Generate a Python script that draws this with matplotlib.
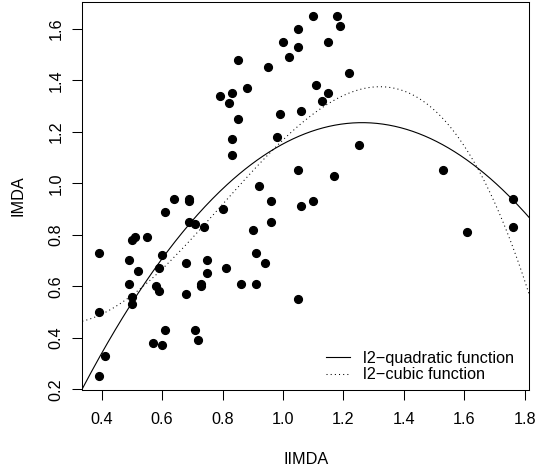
#--Importing--#
import numpy as np
import matplotlib
matplotlib.use("Agg")
import matplotlib.pyplot as plt

#--1. Data--#
iimda = [0.39, 0.41, 0.39, 0.39, 0.50, 0.50, 0.49, 0.49, 0.50, 0.51,
         0.52, 0.55, 0.57, 0.58, 0.59, 0.59, 0.60, 0.60, 0.61, 0.61,
         0.64, 0.69, 0.69, 0.69, 0.71, 0.68, 0.68, 0.71, 0.72, 0.73,
         0.73, 0.74, 0.75, 0.75, 0.80, 0.81, 0.86, 0.90, 0.91, 0.91,
         0.92, 0.94, 0.96, 0.96, 1.05, 1.05, 1.06, 1.10, 1.17, 1.25,
         1.53, 1.61, 1.76, 1.76,
         0.79, 0.82, 0.83, 0.85, 0.88, 0.85, 0.83, 0.83, 0.95, 0.99,
         0.98, 1.00, 1.02, 1.05, 1.05, 1.06, 1.10, 1.18, 1.19, 1.15,
         1.22, 1.11, 1.15, 1.13]
imda = [0.25, 0.33, 0.50, 0.73, 0.53, 0.56, 0.61, 0.70, 0.78, 0.79,
        0.66, 0.79, 0.38, 0.60, 0.58, 0.67, 0.72, 0.37, 0.43, 0.89,
        0.94, 0.94, 0.93, 0.85, 0.84, 0.69, 0.57, 0.43, 0.39, 0.61,
        0.60, 0.83, 0.70, 0.65, 0.90, 0.67, 0.61, 0.82, 0.73, 0.61,
        0.99, 0.69, 0.93, 0.85, 0.55, 1.05, 0.91, 0.93, 1.03, 1.15,
        1.05, 0.81, 0.94, 0.83,
        1.34, 1.31, 1.35, 1.48, 1.37, 1.25, 1.17, 1.11, 1.45, 1.27,
        1.18, 1.55, 1.49, 1.60, 1.53, 1.28, 1.65, 1.65, 1.61, 1.55,
        1.43, 1.38, 1.35, 1.32]

x_ticks = [0.4, 0.6, 0.8, 1.0, 1.2, 1.4, 1.6, 1.8]
y_ticks = [0.2, 0.4, 0.6, 0.8, 1.0, 1.2, 1.4, 1.6]

#--2. Least-squares fits (quadratic and cubic)--#
quad_coef = np.polyfit(iimda, imda, 2)
cubic_coef = np.polyfit(iimda, imda, 3)

#--3. Plot--#
plt.rcParams['font.family'] = ['Liberation Sans', 'DejaVu Sans']
fs = 11.7

fig = plt.figure(figsize=(5.35, 4.71), dpi=100)
ax = fig.add_axes([82.3 / 535, 1 - 390 / 471, 447 / 535, 388 / 471])

ax.plot(iimda, imda, 'o', color='black', markersize=5.6, zorder=3)

xs = np.linspace(0.336, 1.815, 300)
ax.plot(xs, np.polyval(quad_coef, xs), color='black', lw=0.8,
        label='l2\u2212quadratic function')
ax.plot(xs, np.polyval(cubic_coef, xs), color='black', lw=0.75,
        linestyle=(0, (1, 3)), label='l2\u2212cubic function')

ax.set_xlim(0.336, 1.815)
ax.set_ylim(0.197, 1.704)
ax.set_xticks(x_ticks)
ax.set_yticks(y_ticks)
ax.set_xticklabels([f"{t:.1f}" for t in x_ticks], fontsize=fs)
ax.set_yticklabels([f"{t:.1f}" for t in y_ticks], fontsize=fs)
for lab in ax.get_yticklabels():
    lab.set_rotation(90)
    lab.set_rotation_mode('default')
    lab.set_ha('right')
    lab.set_va('center')
ax.tick_params(axis='x', length=7, width=0.75, pad=9)
ax.tick_params(axis='y', length=7, width=0.75, pad=6.5)
for s in ax.spines.values():
    s.set_linewidth(0.75)

ax.set_xlabel('IIMDA', fontsize=fs, labelpad=18)
ax.set_ylabel('IMDA', fontsize=fs, labelpad=16.5)

ax.legend(loc='lower right', bbox_to_anchor=(0.966, 0.02), frameon=False,
          fontsize=fs, handlelength=1.5, handletextpad=0.8,
          labelspacing=0.1, borderpad=0, borderaxespad=0)

fig.savefig('out.png', dpi=100)
